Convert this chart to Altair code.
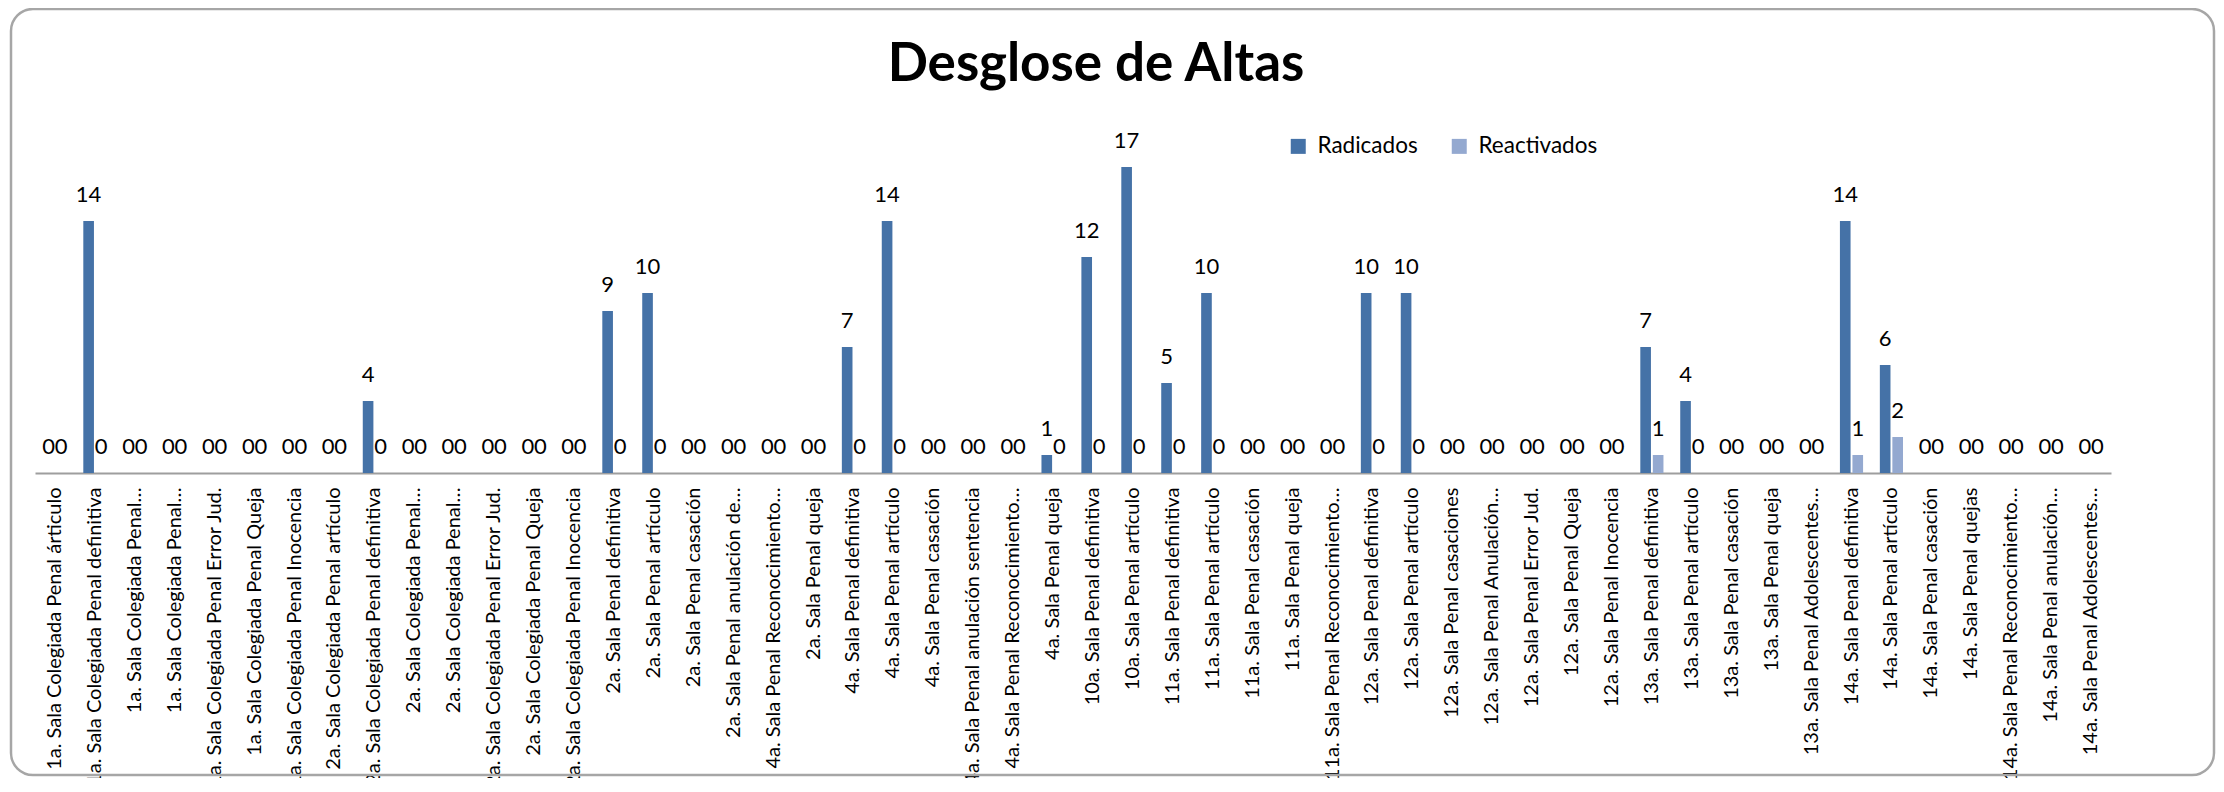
import json
import altair as alt
import pandas as pd

categories = [
    "1a. Sala Colegiada Penal árticulo",
    "1a. Sala Colegiada Penal definitiva",
    "1a. Sala Colegiada Penal…",
    "1a. Sala Colegiada Penal…",
    "1a. Sala Colegiada Penal Error Jud.",
    "1a. Sala Colegiada Penal Queja",
    "1a. Sala Colegiada Penal Inocencia",
    "2a. Sala Colegiada Penal artículo",
    "2a. Sala Colegiada Penal definitiva",
    "2a. Sala Colegiada Penal…",
    "2a. Sala Colegiada Penal…",
    "2a. Sala Colegiada Penal Error Jud.",
    "2a. Sala Colegiada Penal Queja",
    "2a. Sala Colegiada Penal Inocencia",
    "2a. Sala Penal definitiva",
    "2a. Sala Penal artículo",
    "2a. Sala Penal casación",
    "2a. Sala Penal anulación de…",
    "4a. Sala Penal Reconocimiento…",
    "2a. Sala Penal queja",
    "4a. Sala Penal definitiva",
    "4a. Sala Penal artículo",
    "4a. Sala Penal casación",
    "4a. Sala Penal anulación sentencia",
    "4a. Sala Penal Reconocimiento…",
    "4a. Sala Penal queja",
    "10a. Sala Penal definitiva",
    "10a. Sala Penal artículo",
    "11a. Sala Penal definitiva",
    "11a. Sala Penal artículo",
    "11a. Sala Penal casación",
    "11a. Sala Penal queja",
    "11a. Sala Penal Reconocimiento…",
    "12a. Sala Penal definitiva",
    "12a. Sala Penal artículo",
    "12a. Sala Penal casaciones",
    "12a. Sala Penal Anulación…",
    "12a. Sala Penal Error Jud.",
    "12a. Sala Penal Queja",
    "12a. Sala Penal Inocencia",
    "13a. Sala Penal definitiva",
    "13a. Sala Penal artículo",
    "13a. Sala Penal casación",
    "13a. Sala Penal queja",
    "13a. Sala Penal Adolescentes…",
    "14a. Sala Penal definitiva",
    "14a. Sala Penal artículo",
    "14a. Sala Penal casación",
    "14a. Sala Penal quejas",
    "14a. Sala Penal Reconocimiento…",
    "14a. Sala Penal anulación…",
    "14a. Sala Penal Adolescentes…",
]

radicados = [0, 14, 0, 0, 0, 0, 0, 0, 4, 0, 0, 0, 0, 0, 9, 10, 0, 0, 0, 0,
             7, 14, 0, 0, 0, 1, 12, 17, 5, 10, 0, 0, 0, 10, 10, 0, 0, 0, 0, 0,
             7, 4, 0, 0, 0, 14, 6, 0, 0, 0, 0, 0]
reactivados = [0, 0, 0, 0, 0, 0, 0, 0, 0, 0, 0, 0, 0, 0, 0, 0, 0, 0, 0, 0,
               0, 0, 0, 0, 0, 0, 0, 0, 0, 0, 0, 0, 0, 0, 0, 0, 0, 0, 0, 0,
               1, 0, 0, 0, 0, 1, 2, 0, 0, 0, 0, 0]

series = ["Radicados", "Reactivados"]
colors = ["#4572A7", "#94A9D0"]

rows = []
for i, c in enumerate(categories):
    rows.append({"idx": i, "label": c, "series": series[0], "value": radicados[i]})
    rows.append({"idx": i, "label": c, "series": series[1], "value": reactivados[i]})
df = pd.DataFrame(rows)

label_expr = json.dumps(categories, ensure_ascii=False) + "[datum.value]"

FONT = "Lato"

x_enc = alt.X(
    "idx:O",
    title=None,
    scale=alt.Scale(paddingInner=0.42, paddingOuter=0.21),
    axis=alt.Axis(
        labelExpr=label_expr,
        labelAngle=-90,
        labelFontSize=20,
        labelFont=FONT,
        labelColor="#000000",
        labelLimit=600,
        labelPadding=14,
        ticks=False,
        domainColor="#9e9e9e",
        domainWidth=2,
        grid=False,
    ),
)
xoff = alt.XOffset("series:N", sort=series, scale=alt.Scale(paddingInner=0.15))
y_enc = alt.Y("value:Q", scale=alt.Scale(domain=[0, 20]), axis=None)

base = alt.Chart(df)

bars = base.mark_bar().encode(
    x=x_enc,
    xOffset=xoff,
    y=y_enc,
    color=alt.Color(
        "series:N",
        sort=series,
        scale=alt.Scale(domain=series, range=colors),
        legend=alt.Legend(
            title=None,
            orient="none",
            direction="horizontal",
            legendX=1252,
            legendY=22,
            symbolType="square",
            symbolSize=225,
            symbolStrokeWidth=0,
            labelFont=FONT,
            labelFontSize=22.5,
            labelColor="#000000",
            labelOffset=8,
            columnPadding=30,
        ),
    ),
)

texts = base.mark_text(
    font=FONT, fontSize=22, color="#000000", baseline="alphabetic", dy=-19
).encode(
    x=x_enc,
    xOffset=xoff,
    y=y_enc,
    text=alt.Text("value:Q"),
)

frame = alt.Chart(pd.DataFrame({"a": [0]})).mark_rect(
    filled=False, stroke="#a6a6a6", strokeWidth=2.5, cornerRadius=22
).encode(
    x=alt.value(-24), x2=alt.value(2179), y=alt.value(-104), y2=alt.value(662)
)

chart = alt.layer(frame, bars, texts).properties(
    width=2076,
    height=360,
    padding={"left": 27, "top": 105, "right": 105, "bottom": 305},
    autosize="none",
    title=alt.TitleParams(
        "Desglose de Altas",
        font=FONT,
        fontSize=53,
        fontWeight="bold",
        color="#000000",
        anchor="middle",
        dx=23,
        offset=-84,
    ),
).configure_view(stroke=None)

chart.save("out.html", embed_options={"renderer": "svg", "actions": False})
